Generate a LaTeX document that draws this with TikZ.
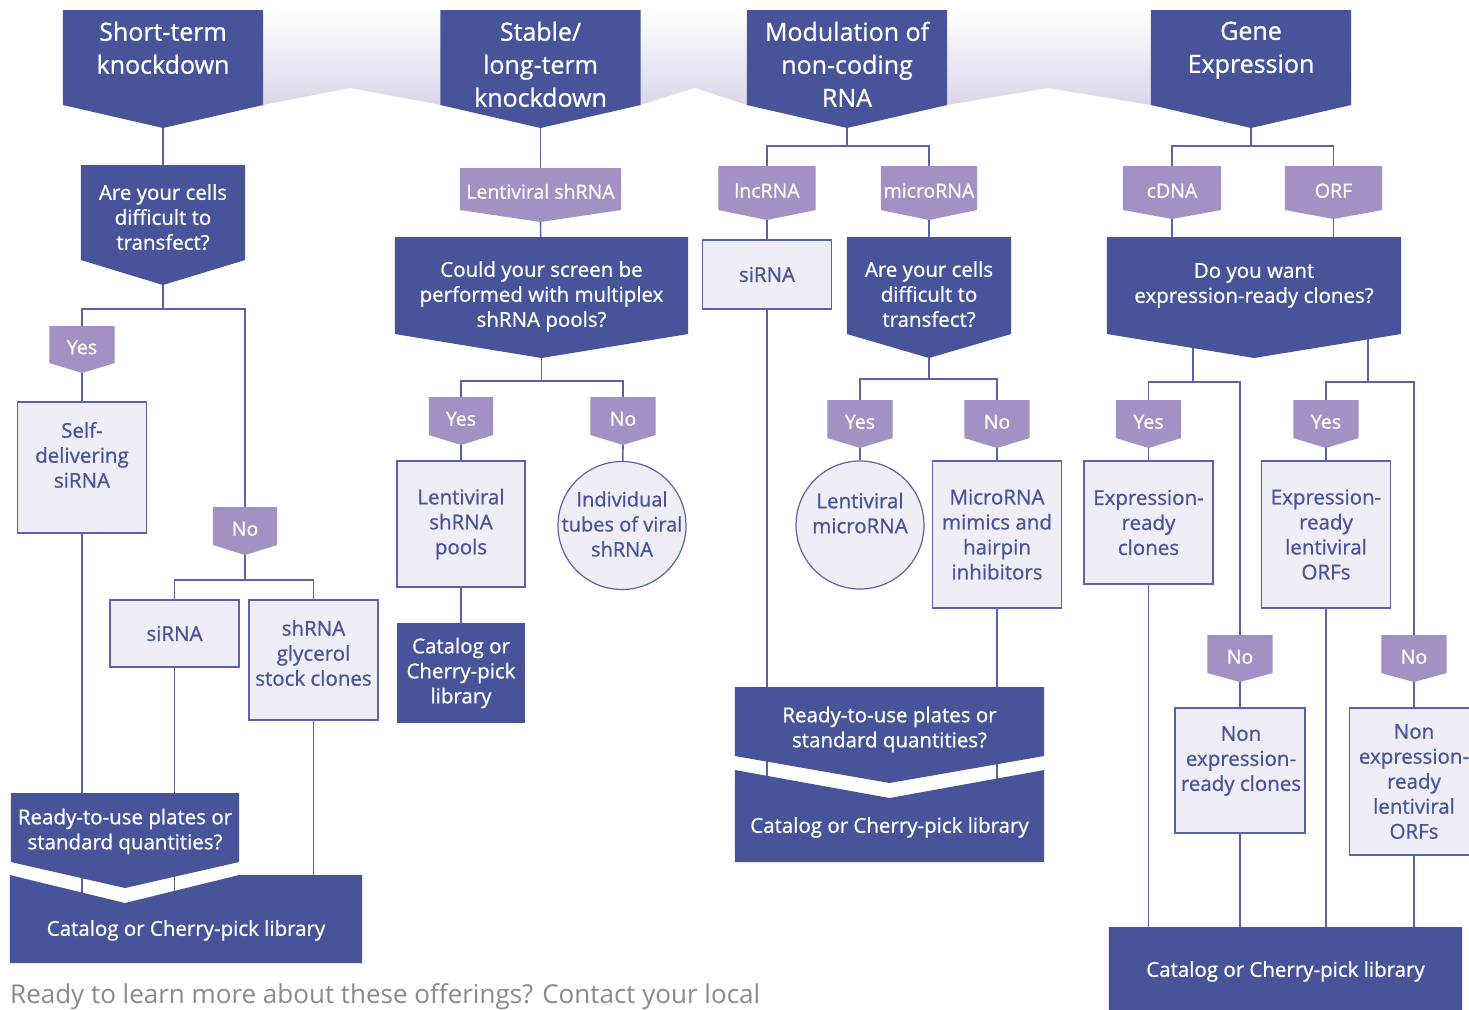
\documentclass[tikz,border=0pt]{standalone}
\usepackage{fontspec}
\setmainfont{Open Sans}[FakeBold=0.8]
\newfontfamily\plainfont{Open Sans}
\usetikzlibrary{positioning, calc}

\definecolor{dkblue}{HTML}{48549A}
\definecolor{lilac}{HTML}{A391C4}
\definecolor{pale}{HTML}{EFEEF7}
\definecolor{wire}{HTML}{5A63A8}
\definecolor{band}{HTML}{DAD6E9}
\definecolor{foot}{HTML}{8A8A8A}

\pgfdeclarelayer{back}
\pgfdeclarelayer{wires}
\pgfdeclarelayer{shapes}
\pgfsetlayers{back,wires,shapes,main}

\newcommand{\hfont}{\fontsize{25}{33}\selectfont}
\newcommand{\bfont}{\fontsize{20.5}{25}\selectfont}
\newcommand{\tfont}{\fontsize{19.5}{24}\selectfont}

% filled box with a pointed bottom, hung from the node's north side
\newcommand{\chevfill}[4]{%
  \begin{pgfonlayer}{shapes}
  \fill[#4] (#1.north west) -- (#1.north east) -- ([yshift=-#2]#1.north east)
    -- ([yshift=-#3]#1.north) coordinate (#1-tip) -- ([yshift=-#2]#1.north west) -- cycle;
  \end{pgfonlayer}}

% box whose top is cut in by the pointed box above it
\newcommand{\notchbox}[4]{%
  \begin{pgfonlayer}{shapes}
  \fill[dkblue] (#1.north west) -- ($(#2-tip |- #1.north)+(0,#3)$) -- (#2.north east |- #1.north)
    -- (#1.north east) -- ([yshift=-#4]#1.north east) -- ([yshift=-#4]#1.north west) -- cycle;
  \end{pgfonlayer}}

\tikzset{
  wire/.style={draw=wire, line width=1.6pt},
  hdr/.style={anchor=north, minimum width=200pt, inner xsep=0pt, inner ysep=11.5pt, text=white, font=\hfont, align=center},
  ask/.style={anchor=north, inner xsep=0pt, inner ysep=24pt, text=white, font=\bfont, align=center},
  tag/.style={anchor=north, minimum height=37pt, inner sep=0pt, text height=19pt, text depth=0pt, text=white, font=\tfont},
  leaf/.style={draw=wire, line width=1.2pt, fill=pale, text=dkblue, font=\bfont, align=center, inner sep=0pt},
  leaftext/.style={text=dkblue, font=\bfont, align=center, inner sep=0pt},
  disc/.style={leaf, circle, minimum size=128pt},
  deep/.style={fill=dkblue, text=white, font=\bfont, align=center, inner sep=0pt}
}

\begin{document}
\begin{tikzpicture}[x=1pt, y=-1pt]

\useasboundingbox (0,0) rectangle (1469,1009);

\begin{pgfonlayer}{back}
\shade[top color=white, bottom color=band] (63,10) -- (1351,10) -- (1351,105) -- (1151,105) -- (1048,88)
  -- (947,105) -- (747,105) -- (695,88) -- (640,105) -- (441,105) -- (350,88) -- (263,105) -- (63,105) -- cycle;
\end{pgfonlayer}

% short-term knockdown
\node [hdr] (h1) at (163,10) {Short-term\\knockdown};
\chevfill{h1}{95pt}{118pt}{dkblue}
\node [ask, minimum width=164pt, inner ysep=19pt] (q1) at (163,165) {Are your cells\\difficult to\\transfect?};
\chevfill{q1}{95pt}{120pt}{dkblue}
\node [tag, minimum width=65pt] (y1) at (82,326) {Yes};
\chevfill{y1}{37pt}{47pt}{lilac}
\node [leaf, minimum width=129pt, minimum height=131pt] (b1) at (82,467.5) {};
\node [leaftext] (b1t) at (82,455) {Self-\\delivering\\siRNA};
\node [tag, minimum width=64pt, minimum height=38pt] (n1) at (245,507) {No};
\chevfill{n1}{38pt}{48pt}{lilac}
\node [leaf, minimum width=129pt, minimum height=67pt] (b2) at (174.5,633.5) {siRNA};
\node [leaf, minimum width=129pt, minimum height=120pt] (b3) at (313.5,660) {};
\node [leaftext] (b3t) at (313.5,653) {shRNA\\glycerol\\stock clones};
\node [ask, minimum width=228pt, inner ysep=15.5pt] (r1) at (125,793) {Ready-to-use plates or\\standard quantities?};
\chevfill{r1}{69pt}{95pt}{dkblue}
\node [ask, minimum width=352pt, inner ysep=45pt] (c1) at (186,875) {Catalog or Cherry-pick library};
\notchbox{c1}{r1}{28}{88pt}

% stable / long-term knockdown
\node [hdr] (h2) at (540.5,10) {Stable/\\long-term\\knockdown};
\chevfill{h2}{95pt}{118pt}{dkblue}
\node [tag, minimum width=161pt, minimum height=42pt] (t1) at (540.5,168) {Lentiviral shRNA};
\chevfill{t1}{42pt}{54pt}{lilac}
\node [ask, minimum width=293pt] (q2) at (541.5,237) {Could your screen be\\performed with multiplex\\shRNA pools?};
\chevfill{q2}{97pt}{121pt}{dkblue}
\node [tag, minimum width=64pt, minimum height=38pt] (y2) at (461,397) {Yes};
\chevfill{y2}{38pt}{48pt}{lilac}
\node [tag, minimum width=65pt, minimum height=38pt] (n2) at (623,397) {No};
\chevfill{n2}{38pt}{48pt}{lilac}
\node [leaf, minimum width=128pt, minimum height=126pt] (b4) at (461,524) {Lentiviral\\shRNA\\pools};
\node [disc] (o1) at (622,525.5) {};
\node [leaftext, font=\fontsize{20}{25}\selectfont] (o1t) at (622,524) {Individual\\tubes of viral\\shRNA};
\node [deep, minimum width=128pt, minimum height=100pt] (c2) at (461,673) {Catalog or\\Cherry-pick\\library};

% modulation of non-coding RNA
\node [hdr] (h3) at (847,10) {Modulation of\\non-coding\\RNA};
\chevfill{h3}{95pt}{118pt}{dkblue}
\node [tag, minimum width=97pt, minimum height=44pt] (t2) at (767,166) {lncRNA};
\chevfill{t2}{44pt}{54pt}{lilac}
\node [tag, minimum width=96pt, minimum height=44pt] (t3) at (929,166) {microRNA};
\chevfill{t3}{44pt}{54pt}{lilac}
\node [leaf, minimum width=129pt, minimum height=69pt] (b5) at (767,274.5) {siRNA};
\node [ask, minimum width=164pt] (q3) at (929,237) {Are your cells\\difficult to\\transfect?};
\chevfill{q3}{97pt}{121pt}{dkblue}
\node [tag, minimum width=65pt, minimum height=38pt] (y3) at (860,400) {Yes};
\chevfill{y3}{38pt}{48pt}{lilac}
\node [tag, minimum width=65pt, minimum height=38pt] (n3) at (997,400) {No};
\chevfill{n3}{38pt}{48pt}{lilac}
\node [disc] (o2) at (860,525) {};
\node [leaftext] (o2t) at (860,513) {Lentiviral\\microRNA};
\node [leaf, minimum width=129pt, minimum height=147pt] (b6) at (997,534.5) {MicroRNA\\mimics and\\hairpin\\inhibitors};
\node [ask, minimum width=309pt, inner ysep=19.5pt] (r3) at (889.5,687) {Ready-to-use plates or\\standard quantities?};
\chevfill{r3}{69pt}{96pt}{dkblue}
\node [ask, minimum width=309pt, inner ysep=47pt] (c3) at (889.5,770) {Catalog or Cherry-pick library};
\notchbox{c3}{r3}{28}{92pt}

% gene expression
\node [hdr] (h4) at (1251,10) {Gene\\Expression};
\chevfill{h4}{95pt}{118pt}{dkblue}
\node [tag, minimum width=98pt, minimum height=44pt] (t4) at (1172,166) {cDNA};
\chevfill{t4}{44pt}{53pt}{lilac}
\node [tag, minimum width=97pt, minimum height=44pt] (t5) at (1333.5,166) {ORF};
\chevfill{t5}{44pt}{53pt}{lilac}
\node [ask, minimum width=294pt, inner ysep=26pt] (q4) at (1254,237) {Do you want\\expression-ready clones?};
\chevfill{q4}{97pt}{121pt}{dkblue}
\node [tag, minimum width=65pt, minimum height=38pt] (y5) at (1148.5,400) {Yes};
\chevfill{y5}{38pt}{48pt}{lilac}
\node [tag, minimum width=65pt, minimum height=38pt] (y6) at (1326,400) {Yes};
\chevfill{y6}{38pt}{48pt}{lilac}
\node [leaf, minimum width=129pt, minimum height=123pt] (b8) at (1148.5,522.5) {Expression-\\ready\\clones};
\node [leaf, minimum width=129pt, minimum height=147pt] (b9) at (1326,534.5) {Expression-\\ready\\lentiviral\\ORFs};
\node [tag, minimum width=65pt, minimum height=38pt] (n5) at (1240,635) {No};
\chevfill{n5}{38pt}{47pt}{lilac}
\node [tag, minimum width=65pt, minimum height=38pt] (n6) at (1414,635) {No};
\chevfill{n6}{38pt}{47pt}{lilac}
\node [leaf, minimum width=130pt, minimum height=125pt] (b10) at (1240,770.5) {};
\node [leaftext] (b10t) at (1241,761) {Non\\expression-\\ready clones};
\node [leaf, minimum width=129pt, minimum height=147pt] (b11) at (1414,781.5) {Non\\expression-\\ready\\lentiviral\\ORFs};
\node [ask, minimum width=353pt, inner ysep=34pt] (c4) at (1285.5,927) {Catalog or Cherry-pick library};
\chevfill{c4}{120pt}{120pt}{dkblue}

\node [anchor=base west, inner sep=0pt, text=foot, font=\plainfont\fontsize{26}{30}\selectfont] (ft) at (10,1003)
  {Ready to learn more about these offerings? Contact your local};

\begin{pgfonlayer}{wires}
\path [wire] (h1-tip) -- (q1);
\path [wire] (q1-tip) -- ++(0,24) coordinate (s1);
\path [wire] (y1) |- (s1) -| (n1);
\path [wire] (y1-tip) -- (b1);
\path [wire] (n1-tip) -- ++(0,25) coordinate (s2);
\path [wire] (b2) |- (s2) -| (b3);
\path [wire] (b1) -- (b1 |- c1);
\path [wire] (b2) -- (b2 |- c1);
\path [wire] (b3) -- (b3 |- c1);

\path [wire] (h2-tip) -- (t1);
\path [wire] (t1-tip) -- (q2);
\path [wire] (q2-tip) -- ++(0,23) coordinate (s3);
\path [wire] (y2) |- (s3) -| (n2);
\path [wire] (y2-tip) -- (b4);
\path [wire] (n2-tip) -- (o1);
\path [wire] (b4) -- (c2);

\path [wire] (h3-tip) -- ++(0,18) coordinate (s4);
\path [wire] (t2) |- (s4) -| (t3);
\path [wire] (t2-tip) -- (b5);
\path [wire] (t3-tip) -- (q3);
\path [wire] (q3-tip) -- ++(0,21) coordinate (s5);
\path [wire] (y3) |- (s5) -| (n3);
\path [wire] (y3-tip) -- (o2);
\path [wire] (n3-tip) -- (b6);
\path [wire] (b5) -- (b5 |- c3);
\path [wire] (b6) -- (b6 |- c3);

\path [wire] (h4-tip) -- ++(0,18) coordinate (s6);
\path [wire] (t4) |- (s6) -| (t5);
\path [wire] (t4-tip) -- (t4-tip |- q4.north);
\path [wire] (t5-tip) -- (t5-tip |- q4.north);
\coordinate (s7) at ($(q4-tip)+(-61,24)$);
\coordinate (s8) at ($(q4-tip)+(114,24)$);
\path [wire] (s7 |- q4) -- (s7);
\path [wire] (s8 |- q4) -- (s8);
\path [wire] (y5) |- (s7) -| (n5);
\path [wire] (y6) |- (s8) -| (n6);
\path [wire] (y5-tip) -- (b8);
\path [wire] (y6-tip) -- (b9);
\path [wire] (n5-tip) -- (b10);
\path [wire] (n6-tip) -- (b11);
\path [wire] (b8) -- (b8 |- c4);
\path [wire] (b9) -- (b9 |- c4);
\path [wire] (b10) -- (b10 |- c4);
\path [wire] (b11) -- (b11 |- c4);
\end{pgfonlayer}

\end{tikzpicture}
\end{document}
